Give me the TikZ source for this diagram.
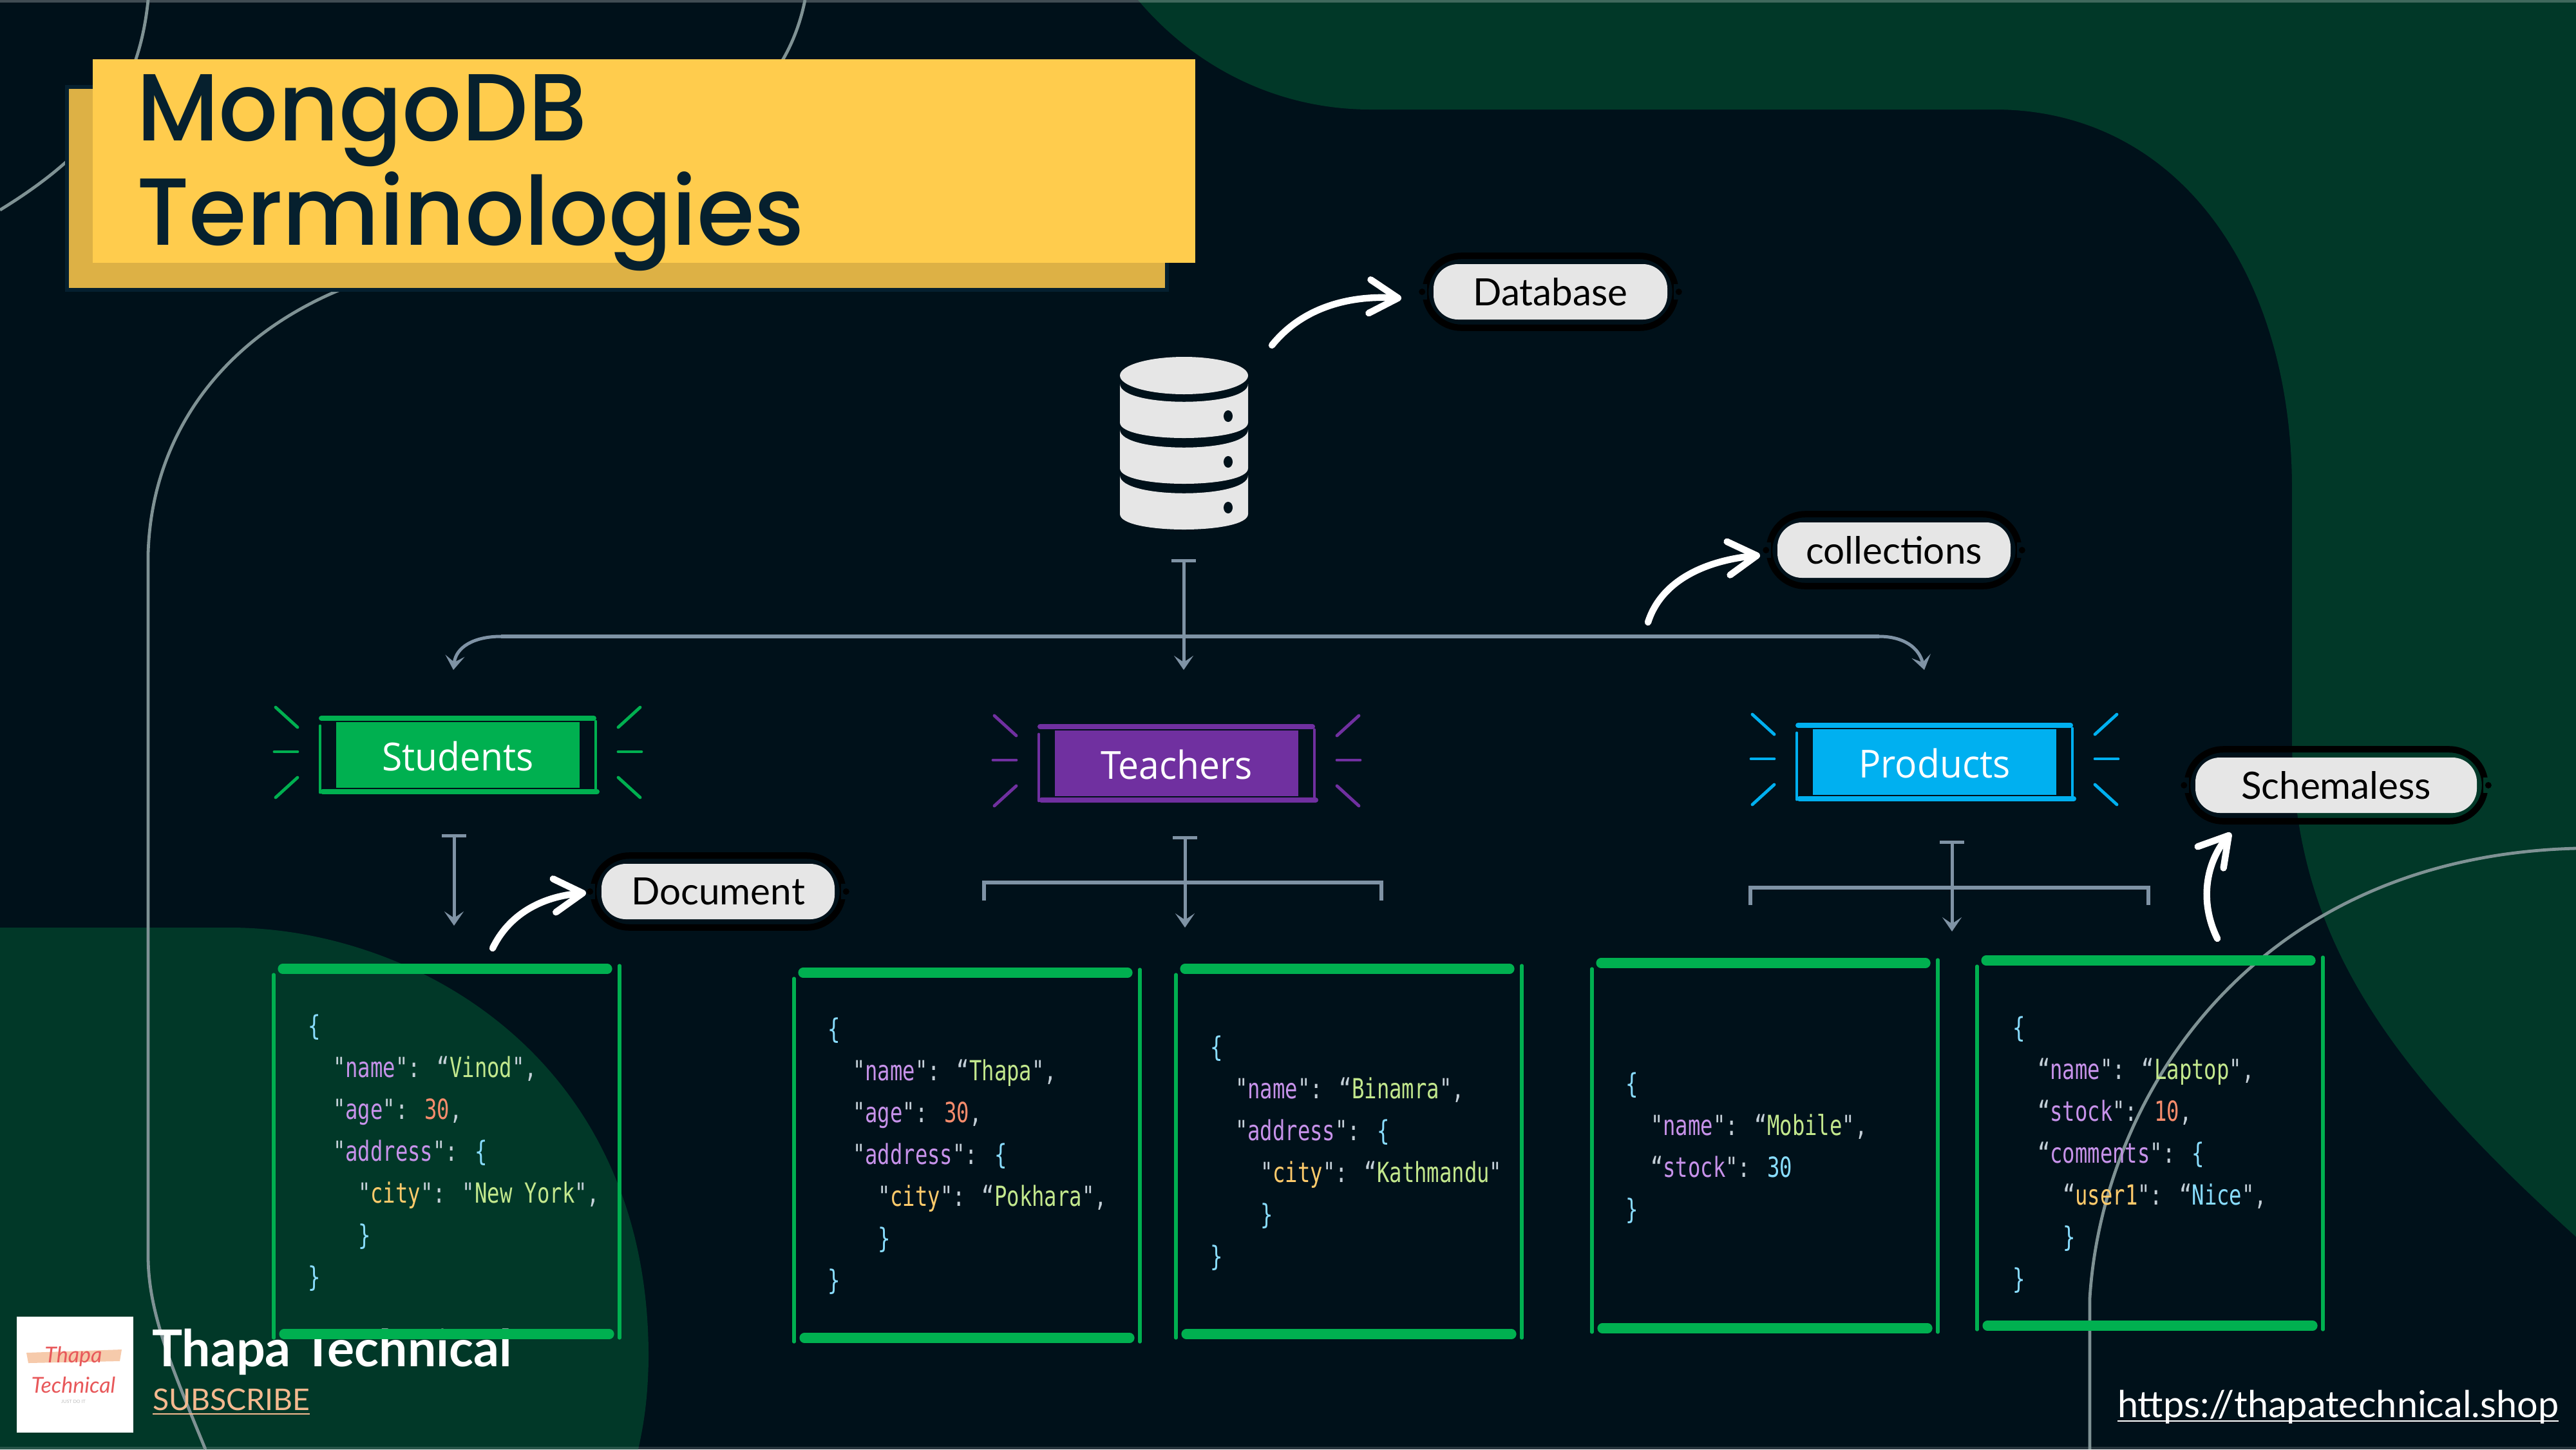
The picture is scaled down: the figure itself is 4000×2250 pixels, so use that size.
\documentclass[tikz,border=0pt]{standalone}
\usepackage{fontspec}
\usepackage{xcolor}
\usepackage{tikz}
\usetikzlibrary{calc, arrows.meta, fit, positioning}
\setmainfont{Lato}
\newfontfamily\titlefont[FakeStretch=0.98]{Poppins Medium}
\newfontfamily\tagfont[FakeStretch=0.95]{Open Sans}
\newfontfamily\codefont[FakeStretch=0.75]{DejaVu Sans Mono}
\definecolor{bgdark}{HTML}{00111A}
\definecolor{bggreen}{HTML}{013828}
\definecolor{bgline}{HTML}{7F9294}
\definecolor{titlefill}{HTML}{FFCC4D}
\definecolor{titleshade}{HTML}{DDB145}
\definecolor{titleink}{HTML}{06202E}
\definecolor{titlerim}{HTML}{05202F}
\definecolor{pillgray}{HTML}{E6E6E6}
\definecolor{linkgray}{HTML}{7F93A5}
\definecolor{docgreen}{HTML}{00B050}
\definecolor{teachpurple}{HTML}{7030A0}
\definecolor{prodblue}{HTML}{00B0F0}
\definecolor{peach}{HTML}{F4B98F}
\definecolor{logored}{HTML}{E8585A}
\definecolor{jsonplain}{HTML}{C4D0D8}
\definecolor{jsonkey}{HTML}{C792EA}
\definecolor{jsonstr}{HTML}{C3E88D}
\definecolor{jsonnum}{HTML}{F78C6C}
\definecolor{jsonbrace}{HTML}{89DDFF}
\definecolor{jsoncity}{HTML}{FFCB6B}
\tikzset{
    x=0.25pt, y=-0.25pt,
    textnode/.style = {draw=none, fill=none, rectangle, inner sep=0pt, outer sep=0pt},
    pillnode/.style = {textnode, fill=pillgray, rounded corners=9.5pt, minimum height=21.5pt, 
      text=black, font=\fontsize{14.6}{18}\selectfont},
    ringnode/.style = {draw=black, rectangle, rounded corners=14pt, line width=2.5pt, inner sep=3.2pt},
    codenode/.style = {textnode, align=left, anchor=west, text=jsonplain, 
      font=\codefont\fontsize{10.75}{16.25}\selectfont},
    tagnode/.style = {textnode, text=white, font=\tagfont\fontsize{15}{18}\selectfont},
    bgcurve/.style = {bgline, line width=1.2pt},
    branch/.style = {linkgray, line width=1.25pt, 
      -{Stealth[length=5.5pt, width=7.5pt, inset=2.5pt]}},
    trunk/.style = {branch, {Bar[width=9.5pt]}-{Stealth[length=5.5pt, width=7.5pt, inset=2.5pt]}},
    crossbar/.style = {linkgray, line width=1.5pt},
    callout/.style = {white, line width=2.6pt, line cap=round, 
      -{Straight Barb[length=11pt, width=13pt, round]}},
    thickbar/.style = {docgreen, line width=3.8pt, line cap=round},
    thinbar/.style = {docgreen, line width=1.3pt, line cap=round},
    framebar/.style = {line width=2pt, line cap=round},
    frameside/.style = {line width=1.2pt, line cap=round},
    rayline/.style = {line width=1.2pt, line cap=round}
}
\newcommand{\jq}[1]{\textcolor{jsonplain}{#1}}
\newcommand{\jk}[1]{\jq{"}\textcolor{jsonkey}{#1}\jq{"}:}
\newcommand{\jc}[1]{\jq{“}\textcolor{jsonkey}{#1}\jq{"}:}
\newcommand{\jv}[1]{\jq{“}\textcolor{jsonstr}{#1}\jq{"}}
\newcommand{\jb}[1]{\textcolor{jsonbrace}{#1}}
\newcommand{\jn}[1]{\textcolor{jsonnum}{#1}}
\newcommand{\jtab}{\hspace*{9.75pt}}
\newcommand{\tagbox}[5]{
  \begin{scope}[shift={(#2,#3)}]
    \fill [#4] (-189,-51) rectangle (189,51);
    \draw [framebar, #4] (-212,-57) -- (211,-57);
    \draw [framebar, #4] (-210,57) -- (216,57);
    \draw [frameside, #4] (-214,-45) -- (-214,58);
    \draw [frameside, #4] (214,-52) -- (214,58);
    \foreach \sx in {-1,1} {
      \draw [rayline, #4] (\sx*283,-74) -- (\sx*249,-43);
      \draw [rayline, #4] (\sx*285,-5) -- (\sx*249,-5);
      \draw [rayline, #4] (\sx*283,66) -- (\sx*249,35);
    }
    \node [tagnode, name=#1] at (0,2) {#5};
  \end{scope}
}
\newcommand{\docbox}[2]{
  \begin{scope}[shift={(#1,#2)}]
    \draw [thickbar] (14,0) -- (518,0);
    \draw [thickbar] (16,567) -- (521,567);
    \draw [thinbar] (0,9) -- (0,573);
    \draw [thinbar] (537,-5) -- (537,573);
  \end{scope}
}

\begin{document}
\begin{tikzpicture}
\useasboundingbox (0,0) rectangle (4000,2250);
\fill [bgdark] (0,0) rectangle (4000,2250);
\fill [bggreen] (1767,0) .. controls (1860,110) and (1990,170) .. (2128,170) -- (3097,170) 
    .. controls (3380,170) and (3559,420) .. (3559,760) -- (3559,1160) 
    .. controls (3565,1450) and (3700,1650) .. (4000,1920) -- (4000,0) -- cycle;
\fill [bggreen] (0,2250) -- (0,1440) -- (357,1440) .. controls (640,1440) and (1010,1640) .. (1007,2111) 
    .. controls (1006,2170) and (1000,2210) .. (991,2250) -- cycle;
\fill [white, opacity=0.25] (0,0) rectangle (4000,4);
\fill [white, opacity=0.15] (0,2246) rectangle (4000,2250);

\draw [bgcurve] (319,2250) .. controls (270,2130) and (230,2040) .. (230,1950) -- (230,860) 
    .. controls (235,680) and (340,530) .. (523,452) .. controls (900,300) and (1200,250) .. (1250,0);
\draw [bgcurve] (230,0) .. controls (215,150) and (140,240) .. (0,326);
\draw [bgcurve] (3245,2250) -- (3245,2015) .. controls (3265,1700) and (3500,1330) .. (4000,1317);

\fill [titleshade, draw=titlerim, line width=1.4pt] (104,135) rectangle (1812,450);
\fill [titlefill] (144,92) rectangle (1856,408);
\node [textnode, name=title, align=left, anchor=west, text=titleink, 
    font=\titlefont\fontsize{37}{40.5}\selectfont] at (212,268) {MongoDB\\Terminologies};

\node [textnode, name=dbicon, minimum width=49.75pt, minimum height=67.5pt] at (1838.5,689) {};
\foreach \ty in {0,71,142} {
  \fill [pillgray] (1739,596+\ty) -- (1739,656+\ty) .. controls (1739,688+\ty) and (1938,688+\ty) .. (1938,656+\ty) 
      -- (1938,596+\ty) .. controls (1938,633+\ty) and (1739,633+\ty) .. (1739,596+\ty) -- cycle;
  \fill [bgdark] (1907,646+\ty) ellipse (7 and 9);
}
\fill [pillgray] (dbicon.north) ++(0,29) ellipse (99.5 and 29);

\node [pillnode, name=database, minimum width=90.75pt] at (2407.5,453) {Database};
\node [ringnode, name=databasering, fit=(database)] {};
\node [pillnode, name=collections, minimum width=90.5pt] at (2941,854) {collections};
\node [ringnode, name=collectionsring, fit=(collections)] {};
\node [pillnode, name=document, minimum width=90.5pt] at (1115,1384) {Document};
\node [ringnode, name=documentring, fit=(document)] {};
\node [pillnode, name=schemaless, minimum width=109.25pt] at (3627.5,1219) {Schemaless};
\node [ringnode, name=schemalessring, fit=(schemaless)] {};
\foreach \pillname/\gapcolor in {database/bgdark, collections/bgdark, document/bgdark, schemaless/bggreen} {
  \fill [bgdark] ($(\pillname ring.west)+(-8,-12)$) rectangle ($(\pillname ring.west)+(8,12)$);
  \fill [\gapcolor] ($(\pillname ring.east)+(-8,-12)$) rectangle ($(\pillname ring.east)+(8,12)$);
  \fill [black] (\pillname ring.west) circle (5);
  \fill [black] (\pillname ring.east) circle (5);
}

\coordinate (dbfrom) at (1975,536);
\coordinate (dbtip) at (2176,463);
\draw [callout] (dbfrom) .. controls (2020,480) and (2090,458) .. (dbtip);
\coordinate (collfrom) at (2559,966);
\coordinate (colltip) at (2733,862);
\draw [callout] (collfrom) .. controls (2580,900) and (2650,870) .. (colltip);
\coordinate (docfrom) at (765,1472);
\coordinate (doctip) at (910,1386);
\draw [callout] (docfrom) .. controls (790,1420) and (840,1392) .. (doctip);
\coordinate (schemafrom) at (3443,1457);
\coordinate (schematip) at (3464,1293);
\draw [callout] (schemafrom) .. controls (3415,1400) and (3425,1340) .. (schematip);

\coordinate (dbtail) at (1838,868);
\coordinate (dbhead) at (1838,1040);
\coordinate (hubleft) at (778,988);
\coordinate (hubright) at (2918,988);
\coordinate (headleft) at (704,1040);
\coordinate (headright) at (2988,1040);
\draw [trunk] (dbtail) -- (dbhead);
\draw [crossbar] (hubleft) -- (hubright);
\draw [branch] (hubleft) .. controls (735,988) and (708,1005) .. (headleft);
\draw [branch] (hubright) .. controls (2955,988) and (2980,1005) .. (headright);

\tagbox{students}{711}{1172}{docgreen}{Students}
\tagbox{teachers}{1827}{1185}{teachpurple}{Teachers}
\tagbox{products}{3004}{1183}{prodblue}{Products}

\coordinate (studentstail) at (705,1295);
\coordinate (studentshead) at (705,1437);
\draw [trunk] (studentstail) -- (studentshead);

\coordinate (teacherstail) at (1840,1298);
\coordinate (teachershead) at (1840,1440);
\draw [trunk] (teacherstail) -- (teachershead);
\draw [crossbar] (1528,1398) -- (1528,1370) -- (2145,1370) -- (2145,1398);

\coordinate (productstail) at (3031,1305);
\coordinate (productshead) at (3031,1446);
\draw [trunk] (productstail) -- (productshead);
\draw [crossbar] (2718,1405) -- (2718,1378) -- (3336,1378) -- (3336,1405);

\node [textnode, name=logo, fill=white, minimum width=45.25pt, minimum height=45pt] at (116.5,2134) {};
\fill [peach, opacity=0.75] (41,2100) -- (189,2095) -- (186,2113) -- (44,2116) -- cycle;
\node [textnode, name=logotop, text=logored, font=\itshape\fontsize{8.5}{10}\selectfont] at (114,2106) {Thapa};
\node [textnode, name=logomid, text=logored, font=\itshape\fontsize{8.5}{10}\selectfont] at (114,2150) {Technical};
\node [textnode, name=logofoot, text=gray!50, font=\fontsize{1.8}{2}\selectfont] at (114,2176) {JUST DO IT};

\node [textnode, name=channel, anchor=base west, text=white, font=\bfseries\fontsize{19.7}{24}\selectfont] 
    at (236,2121) {Thapa Technical};
\node [textnode, name=subscribe, anchor=base west, text=peach, font=\fontsize{11.6}{14}\selectfont] 
    at (237,2189) {SUBSCRIBE};
\draw [peach, line width=0.6pt] ($(subscribe.base west)+(0,6)$) -- ($(subscribe.base east)+(0,6)$);
\node [textnode, name=website, anchor=base west, text=white, font=\fontsize{14.4}{17}\selectfont] 
    at (3288,2200) {https://thapatechnical.shop};
\draw [white, line width=0.7pt] ($(website.base west)+(0,6)$) -- ($(website.base east)+(0,6)$);

\docbox{425}{1504}
\docbox{1233}{1510}
\docbox{1826}{1504}
\docbox{2472}{1495}
\docbox{3070}{1491}

\node [codenode, name=codevinod] at (478,1790) {\jb{\{}\\
\jtab\jk{name} \jv{Vinod},\\
\jtab\jk{age} \jn{30},\\
\jtab\jk{address} \jb{\{}\\
\jtab\jtab\jq{"}\textcolor{jsoncity}{city}\jq{"}: \jq{"}\textcolor{jsonstr}{New York}\jq{"},\\
\jtab\jtab\jb{\}}\\
\jb{\}}};

\node [codenode, name=codethapa] at (1285,1795) {\jb{\{}\\
\jtab\jk{name} \jv{Thapa},\\
\jtab\jk{age} \jn{30},\\
\jtab\jk{address} \jb{\{}\\
\jtab\jtab\jq{"}\textcolor{jsoncity}{city}\jq{"}: \jv{Pokhara},\\
\jtab\jtab\jb{\}}\\
\jb{\}}};

\node [codenode, name=codebinamra] at (1879,1790) {\jb{\{}\\
\jtab\jk{name} \jv{Binamra},\\
\jtab\jk{address} \jb{\{}\\
\jtab\jtab\jq{"}\textcolor{jsoncity}{city}\jq{"}: \jv{Kathmandu}\\
\jtab\jtab\jb{\}}\\
\jb{\}}};

\node [codenode, name=codemobile] at (2524,1782) {\jb{\{}\\
\jtab\jk{name} \jv{Mobile},\\
\jtab\jc{stock} \jb{30}\\
\jb{\}}};

\node [codenode, name=codelaptop] at (3125,1793) {\jb{\{}\\
\jtab\jc{name} \jv{Laptop},\\
\jtab\jc{stock} \jn{10},\\
\jtab\jc{comments} \jb{\{}\\
\jtab\jtab\jq{“}\textcolor{jsoncity}{user1}\jq{"}: \jq{“}\jb{Nice}\jq{"},\\
\jtab\jtab\jb{\}}\\
\jb{\}}};
\end{tikzpicture}
\end{document}
